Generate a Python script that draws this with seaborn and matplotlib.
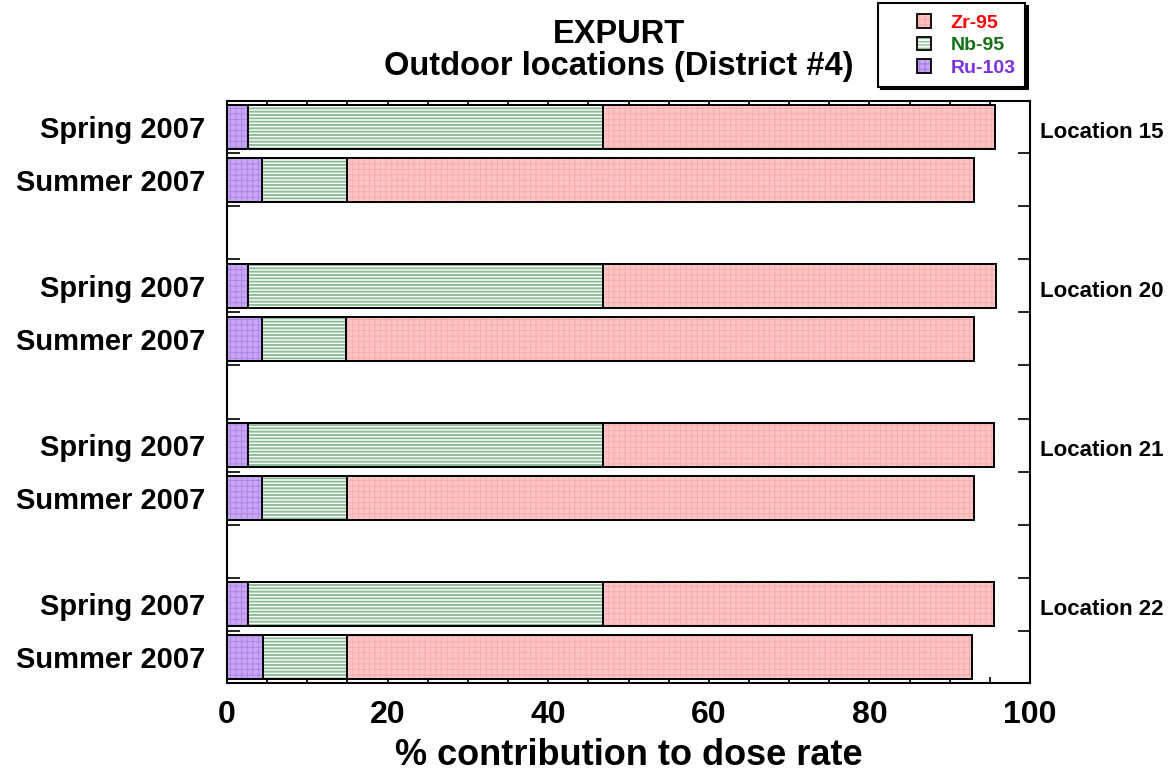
import matplotlib
matplotlib.use("Agg")
import matplotlib.pyplot as plt
from matplotlib.patches import Rectangle, Patch
from matplotlib.legend_handler import HandlerPatch, HandlerTuple
import seaborn as sns
import pandas as pd
import numpy as np

# =========================================================
# Data (% contribution to dose rate)
# =========================================================
locations = ["Location 15", "Location 20", "Location 21", "Location 22"]
seasons = ["Spring 2007", "Summer 2007"]

ru103 = [2.6, 4.3, 2.6, 4.3, 2.6, 4.3, 2.6, 4.5]
nb95 = [44.2, 10.7, 44.2, 10.5, 44.2, 10.7, 44.2, 10.5]
zr95 = [48.8, 78.0, 49.0, 78.2, 48.7, 78.0, 48.7, 77.8]

nuclides = ["Zr-95", "Nb-95", "Ru-103"]
text_colors = ["#ff0000", "#137013", "#7a2fe0"]

# =========================================================
# Build table: one row per location/season, blank slot between locations
# =========================================================
rows = []
order = []
k = 0
for i, loc in enumerate(locations):
    for s in seasons:
        rows.append({"slot": f"{loc}|{s}", "ru": ru103[k], "nb": nb95[k], "zr": zr95[k]})
        order.append(f"{loc}|{s}")
        k += 1
    if i < len(locations) - 1:
        order.append(f"gap{i}")

df = pd.DataFrame(rows)
df["cum_ru"] = df["ru"]
df["cum_nb"] = df["ru"] + df["nb"]
df["cum_zr"] = df["ru"] + df["nb"] + df["zr"]

# styles: (cumulative column, face colour, hatch colour, hatch, hatch linewidth)
layers = [
    ("cum_zr", "#ffc4c4", "#f5abab", "+++", 0.6),
    ("cum_nb", "#ffffff", "#8fbc99", "-----", 1.4),
    ("cum_ru", "#c9a6f4", "#a982e6", "+++", 0.6),
]

# =========================================================
# Plot
# =========================================================
sns.set_style("white")
plt.rcParams["font.family"] = ["Liberation Sans", "DejaVu Sans"]
plt.rcParams["font.weight"] = "bold"
plt.rcParams["text.color"] = "black"
plt.rcParams["axes.labelcolor"] = "black"
plt.rcParams["xtick.color"] = "black"
plt.rcParams["ytick.color"] = "black"

fig = plt.figure(figsize=(11.76, 7.71), dpi=100)
ax = fig.add_axes([227 / 1176, 1 - 683 / 771, (1030 - 227) / 1176, (683 - 101) / 771])

for col, face, hcol, hatch, hlw in layers:
    n_before = len(ax.patches)
    with plt.rc_context({"hatch.linewidth": hlw}):
        sns.barplot(data=df, x=col, y="slot", order=order, orient="h",
                    color=face, saturation=1, width=0.83, errorbar=None,
                    edgecolor=hcol, linewidth=0, hatch=hatch, ax=ax)
    for p in ax.patches[n_before:]:
        if hasattr(p, "set_hatch_linewidth"):
            p.set_hatch_linewidth(hlw)
        ax.add_patch(Rectangle(p.get_xy(), p.get_width(), p.get_height(),
                               fill=False, edgecolor="black", linewidth=1.4,
                               zorder=p.get_zorder() + 0.1))

ax.set_xlim(0, 100)
ax.set_ylim(len(order) - 0.51, -0.49)

# x axis ticks
ax.set_xticks(np.arange(0, 101, 20))
ax.set_xticks(np.arange(0, 101, 5), minor=True)
ax.tick_params(axis="x", which="major", direction="in", length=7, width=1.2,
               top=True, bottom=True, labelsize=23, pad=12)
ax.tick_params(axis="x", which="minor", direction="in", length=4, width=1.2,
               top=True, bottom=True)

# y axis: labels at slot centres, ticks at slot boundaries
ylabels = [o.split("|")[1] if "|" in o else "" for o in order]
ax.set_yticks(range(len(order)))
ax.set_yticklabels(ylabels)
ax.set_yticks(np.arange(0.5, len(order) - 1, 1.0), minor=True)
ax.tick_params(axis="y", which="major", length=0, labelsize=21, pad=16)
ax.tick_params(axis="y", which="minor", direction="in", length=9, width=1.2,
               left=True, right=True)

ax.set_xlabel("% contribution to dose rate", fontsize=26, fontweight="bold", labelpad=6)
ax.set_ylabel("")

for sp in ax.spines.values():
    sp.set_visible(True)
    sp.set_color("black")
    sp.set_linewidth(1.5)

# location labels on the right
for loc in locations:
    ypos = order.index(f"{loc}|Spring 2007") + 0.1
    ax.text(1.012, ypos, loc, transform=ax.get_yaxis_transform(),
            fontsize=16, fontweight="bold", va="center", ha="left")

# title
fig.text(619 / 1176, 1 - 43 / 771, "EXPURT", fontsize=23.5, fontweight="bold",
         ha="center", va="baseline")
fig.text(619 / 1176, 1 - 75 / 771, "Outdoor locations (District #4)", fontsize=23.5,
         fontweight="bold", ha="center", va="baseline")


# legend: small square swatch at the right end of a wide handle box
def square_swatch(legend, orig_handle, xdescent, ydescent, width, height, fontsize):
    s = 10
    return Rectangle((width - s - 1.5 - xdescent, height / 2 - s / 2 - ydescent), s, s)


handles = [(Patch(facecolor=face, edgecolor=hcol, hatch=hatch, linewidth=0),
            Patch(fill=False, edgecolor="black", linewidth=1.3))
           for _, face, hcol, hatch, _ in layers]
leg = fig.legend(handles, nuclides, loc="upper right",
                 bbox_to_anchor=(1025 / 1176, 1 - 3 / 771),
                 fontsize=14, frameon=True, fancybox=False,
                 shadow={"color": "black", "alpha": 1},
                 handler_map={tuple: HandlerTuple(ndivide=1, pad=0),
                              Patch: HandlerPatch(patch_func=square_swatch)},
                 handlelength=2.3, handleheight=0.9, handletextpad=0.9,
                 borderpad=0.5, labelspacing=0.2, borderaxespad=0)
leg.get_frame().set_edgecolor("black")
leg.get_frame().set_linewidth(1.5)
for t, c in zip(leg.get_texts(), text_colors):
    t.set_color(c)
    t.set_fontweight("bold")

plt.savefig("out.png", dpi=100)
